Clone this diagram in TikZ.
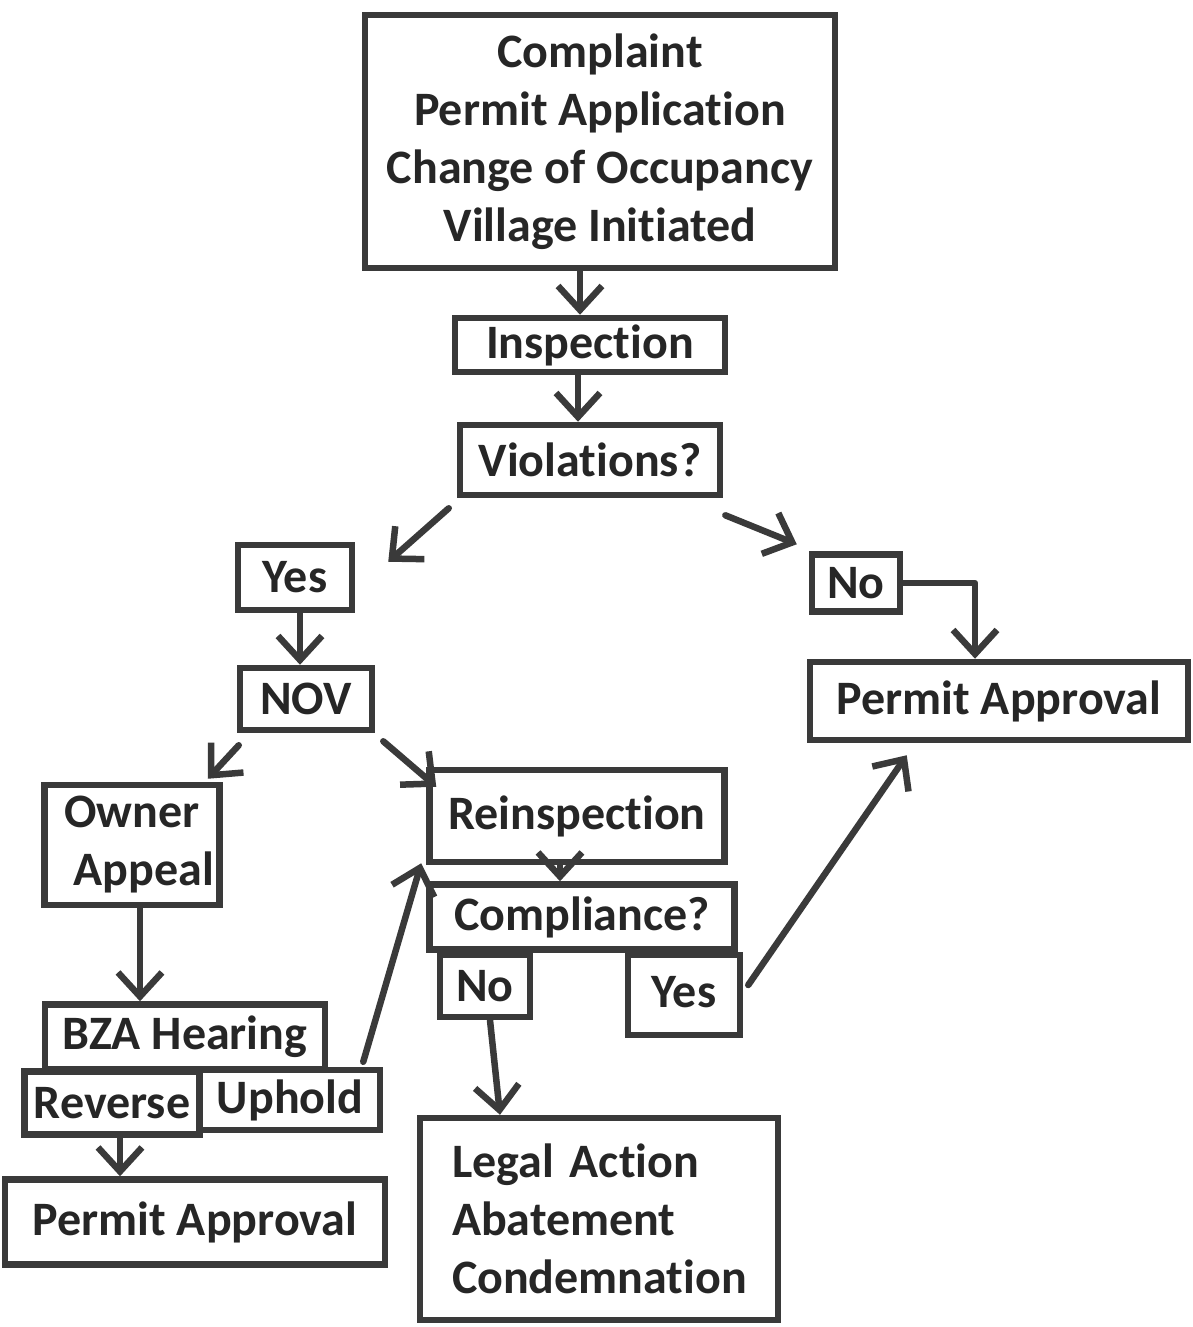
\documentclass[tikz,border=0pt]{standalone}
\usepackage{fontspec}
\setmainfont{Carlito}[Ligatures={NoCommon,NoContextual,NoRequired}]
\usetikzlibrary{arrows.meta}
\newcommand\tKi{t\kern0pt i}
\definecolor{ink}{HTML}{3A3A3A}
\definecolor{txt}{HTML}{262626}
\tikzset{
  box/.style={draw=ink, line width=6.5pt, rectangle, inner sep=0pt, text=txt,
    font=\fontsize{48}{58}\selectfont\bfseries, align=center},
  arr/.style={draw=ink, line width=6.5pt, line cap=round, line join=round,
    -{Straight Barb[length=24pt, width=44pt, line width=6.5pt]}}
}
\begin{document}
\begin{tikzpicture}[x=1pt,y=-1pt]
\useasboundingbox (0,0) rectangle (1192,1327);
\fill[white] (0,0) rectangle (1192,1327);

\node[box, minimum width=470, minimum height=253] (top) at (600,141.5)
  {Complaint\\Permit Applica\tKi on\\Change of Occupancy\\Village Ini\tKi ated};
\node[box, minimum width=270, minimum height=54] (insp) at (590,345) {Inspec\tKi on};
\node[box, minimum width=260, minimum height=70] (viol) at (590,460) {Viola\tKi ons?};
\node[box, minimum width=114, minimum height=65] (yes1) at (295,577.5) {Yes};
\node[box, minimum width=88, minimum height=57] (no1) at (856,583) {No};
\node[box, minimum width=378, minimum height=78] (pa1) at (999,701) {Permit Approval};
\node[box, minimum width=132, minimum height=62] (nov) at (306,699) {NOV};
\node[box, minimum width=175, minimum height=120] (owner) at (132,845) {Owner\\\hspace*{24pt}Appeal};
\node[box, minimum width=295, minimum height=92] (reinsp) at (577,816) {Reinspec\tKi on};
\node[box, minimum width=305, minimum height=65] (comp) at (582,917) {Compliance?};
\node[box, minimum width=90, minimum height=62] (no2) at (485,986) {No};
\node[box, minimum width=112, minimum height=80] (yes2) at (684,995) {\raisebox{6pt}{Yes}};
\node[box, minimum width=280, minimum height=65] (bza) at (185,1037) {\raisebox{-6pt}{BZA Hearing}};
\node[box, minimum width=175, minimum height=63] (rev) at (112,1103) {Reverse};
\node[box, minimum width=180, minimum height=60] (uph) at (290,1100) {Uphold};
\node[box, minimum width=380, minimum height=85] (pa2) at (195,1222) {Permit Approval};
\node[box, minimum width=358, minimum height=202, align=left, text width=294,
  inner xsep=32pt] (legal) at (599,1219) {Legal Ac\tKi on\\Abatement\\Condemna\tKi on};

\draw[arr] ([xshift=-20]top.south) -- ([xshift=-10]insp.north);
\draw[arr] ([xshift=-12]insp.south) -- ([xshift=-12]viol.north);
\draw[arr] ([shift={(-8,10)}]viol.south west) -- ([shift={(33,20)}]yes1.north east);
\draw[arr] ([shift={(2,17)}]viol.south east) -- ([shift={(-12,-7)}]no1.north west);
\draw[arr] (no1.east) -| ([xshift=-24]pa1.north);
\draw[arr] ([xshift=5]yes1.south) -- ([xshift=-6]nov.north);
\draw[arr] ([shift={(2,12)}]nov.south west) -- ([shift={(-15,-3)}]owner.north east);
\draw[arr] ([shift={(8,8)}]nov.south east) -- ([shift={(10,20)}]reinsp.north west);
\draw[arr] ([xshift=8]owner.south) -- ([xshift=-45]bza.north);
\draw[arr] ([shift={(-20,-5)}]uph.north east) -- ([shift={(-5,-2)}]reinsp.south west);
\draw[arr] ([xshift=-17]reinsp.south) -- ([xshift=-22]comp.north);
\draw[arr] ([shift={(5,-10)}]yes2.east) -- ([shift={(100,12)}]pa1.south west);
\draw[arr] ([xshift=5]no2.south) -- ([xshift=-99]legal.north);
\draw[arr] ([xshift=8]rev.south) -- ([xshift=-75]pa2.north);
\end{tikzpicture}
\end{document}
